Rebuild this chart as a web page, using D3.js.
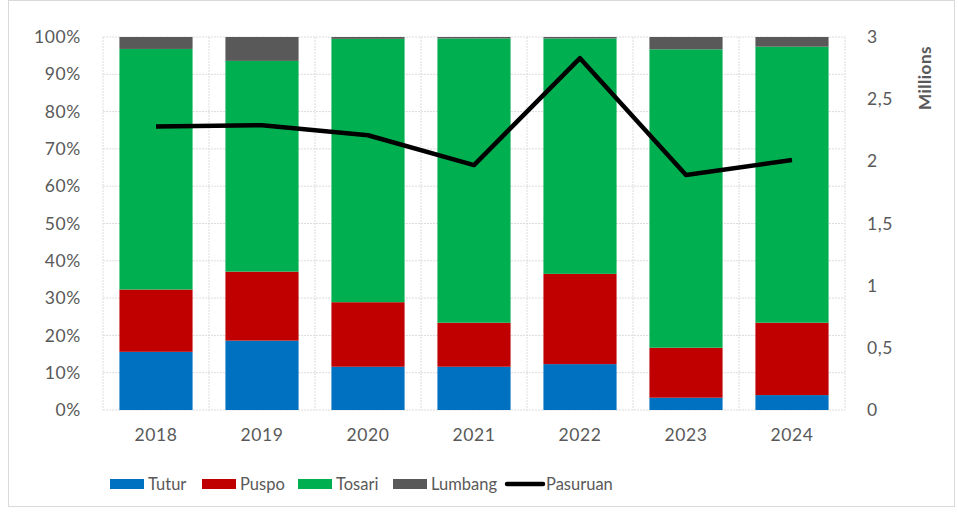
<!DOCTYPE html>
<html>
<head>
<meta charset="utf-8">
<script src="https://cdn.jsdelivr.net/npm/d3@7"></script>
<style>
  body { margin: 0; background: #fff; }
  text { font-family: Lato, "Open Sans", sans-serif; }
</style>
</head>
<body>
<div id="chart"></div>
<script>
const width = 958;
const height = 512;
const margin = { top: 37, right: 113, bottom: 102, left: 103 };

// data (shares in %, Pasuruan total in millions)
const years = ["2018", "2019", "2020", "2021", "2022", "2023", "2024"];
const tutur = [15.6, 18.6, 11.6, 11.6, 12.3, 3.3, 4.0];
const puspo = [16.7, 18.5, 17.3, 11.8, 24.2, 13.4, 19.4];
const tosari = [64.5, 56.5, 70.6, 76.2, 63.1, 80.0, 74.0];
const lumbang = [3.2, 6.4, 0.5, 0.4, 0.4, 3.3, 2.6];
const pasuruan = [2.28, 2.29, 2.21, 1.97, 2.83, 1.89, 2.01];

const seriesNames = ["Tutur", "Puspo", "Tosari", "Lumbang"];
const seriesColors = ["#0070c0", "#c00000", "#00b050", "#595959"];
const leftTicks = [0, 10, 20, 30, 40, 50, 60, 70, 80, 90, 100];
const rightTicks = [0, 0.5, 1, 1.5, 2, 2.5, 3];

const rows = years.map((y, i) => ({
    year: y, Tutur: tutur[i], Puspo: puspo[i], Tosari: tosari[i], Lumbang: lumbang[i]
}));

const svg = d3.select("#chart")
    .append("svg")
    .attr("width", width)
    .attr("height", height);

svg.append("rect")
    .attr("x", 8.5).attr("y", 0.5)
    .attr("width", width - 12).attr("height", height - 6)
    .attr("fill", "#fff")
    .attr("stroke", "#d9d9d9");

const plotWidth = width - margin.left - margin.right;
const plotHeight = height - margin.top - margin.bottom;

const plot = svg.append("g")
    .attr("transform", `translate(${margin.left},${margin.top})`);

const x = d3.scaleBand().domain(years).range([0, plotWidth]).paddingInner(0.31).paddingOuter(0.155);
const y = d3.scaleLinear().domain([0, 100]).range([plotHeight, 0]);
const y2 = d3.scaleLinear().domain([0, 3]).range([plotHeight, 0]);
const step = x.step();

// gridlines
plot.append("g")
    .selectAll("line")
    .data(leftTicks)
    .join("line")
    .attr("x1", 0).attr("x2", plotWidth)
    .attr("y1", d => y(d)).attr("y2", d => y(d))
    .attr("stroke", "#dcdcdc")
    .attr("stroke-dasharray", "2,1");

plot.append("g")
    .selectAll("line")
    .data(d3.range(years.length + 1))
    .join("line")
    .attr("x1", d => d * step).attr("x2", d => d * step)
    .attr("y1", 0).attr("y2", plotHeight)
    .attr("stroke", "#dcdcdc")
    .attr("stroke-dasharray", "2,1");

// stacked bars
const stacked = d3.stack().keys(seriesNames)(rows);

plot.selectAll(".layer")
    .data(stacked)
    .join("g")
    .attr("class", "layer")
    .attr("fill", (d, i) => seriesColors[i])
    .selectAll("rect")
    .data(d => d)
    .join("rect")
    .attr("x", d => x(d.data.year))
    .attr("width", x.bandwidth())
    .attr("y", d => y(Math.min(100, d[1])))
    .attr("height", d => y(d[0]) - y(Math.min(100, d[1])));

// line
const line = d3.line()
    .x((d, i) => x(years[i]) + x.bandwidth() / 2)
    .y(d => y2(d));

plot.append("path")
    .datum(pasuruan)
    .attr("fill", "none")
    .attr("stroke", "#000")
    .attr("stroke-width", 4.5)
    .attr("stroke-linejoin", "round")
    .attr("d", line);

// axes
const leftAxis = plot.append("g")
    .call(d3.axisLeft(y).tickValues(leftTicks).tickFormat(d => d + "%").tickSize(0).tickPadding(22));
const rightAxis = plot.append("g")
    .attr("transform", `translate(${plotWidth},0)`)
    .call(d3.axisRight(y2).tickValues(rightTicks).tickFormat(d => String(d).replace(".", ",")).tickSize(0).tickPadding(22));
const bottomAxis = plot.append("g")
    .attr("transform", `translate(0,${plotHeight})`)
    .call(d3.axisBottom(x).tickSize(0).tickPadding(19));

[leftAxis, rightAxis, bottomAxis].forEach(a => {
    a.select(".domain").remove();
    a.selectAll("text")
        .style("font-size", "17.5px")
        .style("letter-spacing", "0.6px")
        .attr("fill", "#595959");
});

svg.append("text")
    .attr("transform", `translate(931,${margin.top + 41}) rotate(-90)`)
    .attr("text-anchor", "middle")
    .style("font-size", "17px")
    .style("font-weight", "bold")
    .style("letter-spacing", "0.5px")
    .attr("fill", "#595959")
    .text("Millions");

// legend
const legendItems = [
    { name: "Tutur", x: 110, color: seriesColors[0], type: "bar" },
    { name: "Puspo", x: 202, color: seriesColors[1], type: "bar" },
    { name: "Tosari", x: 298, color: seriesColors[2], type: "bar" },
    { name: "Lumbang", x: 393, color: seriesColors[3], type: "bar" },
    { name: "Pasuruan", x: 505, color: "#000", type: "line" }
];

const legend = svg.append("g").attr("class", "legend");
legendItems.forEach(item => {
    const g = legend.append("g").attr("transform", `translate(${item.x},484)`);
    if (item.type === "bar") {
        g.append("rect").attr("x", 0).attr("y", -5).attr("width", 34).attr("height", 10).attr("fill", item.color);
    } else {
        g.append("line").attr("x1", 2).attr("x2", 38).attr("y1", 0).attr("y2", 0)
            .attr("stroke", item.color).attr("stroke-width", 4.5).attr("stroke-linecap", "round");
    }
    g.append("text")
        .attr("x", item.type === "bar" ? 38 : 41)
        .attr("y", 6)
        .style("font-size", "16.5px")
        .attr("fill", "#595959")
        .text(item.name);
});
</script>
</body>
</html>
